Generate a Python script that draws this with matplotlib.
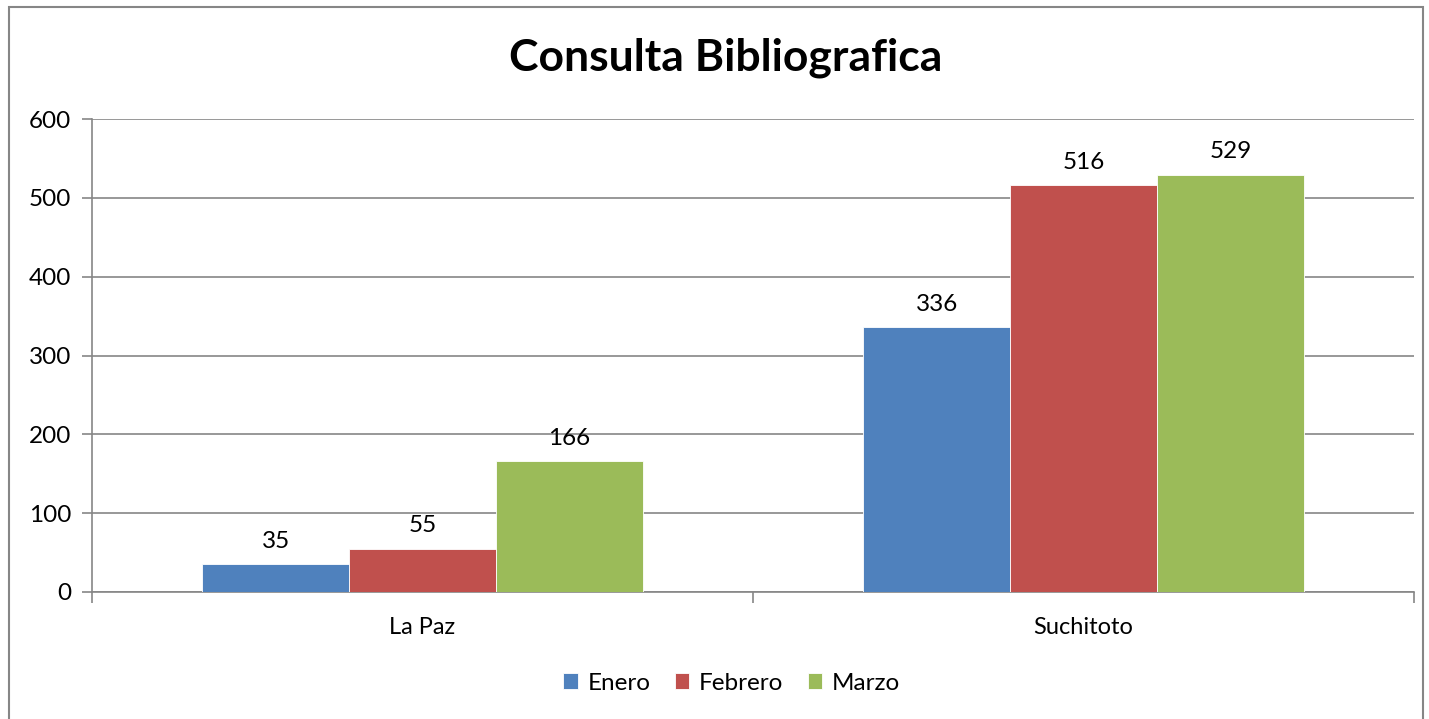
import matplotlib.pyplot as plt
import numpy as np
from matplotlib.patches import Rectangle

CATEGORIES = ['La Paz', 'Suchitoto']
SERIES = ['Enero', 'Febrero', 'Marzo']
ENERO = [35, 336]
FEBRERO = [55, 516]
MARZO = [166, 529]
COLORS = ['#4F81BD', '#C0504D', '#9BBB59']


def plot_chart() -> None:
    plt.rcParams['font.family'] = ['Lato', 'DejaVu Sans']
    fig = plt.figure(figsize=(14.29, 7.19), dpi=100)
    ax = fig.add_axes([92 / 1429, 1 - 592 / 719, (1414 - 92) / 1429, (592 - 119) / 719])

    # chart area border
    fig.patches.append(Rectangle((9 / 1429, -0.05), (1423 - 9) / 1429, 1.05 - 7 / 719,
                                 transform=fig.transFigure, fill=False,
                                 edgecolor='#868686', linewidth=1.5))

    values = [ENERO, FEBRERO, MARZO]
    width = 1 / 4.5
    ind = np.arange(len(CATEGORIES))
    for i, (name, vals) in enumerate(zip(SERIES, values)):
        pos = ind + (i - 1) * width
        ax.bar(pos, vals, width, color=COLORS[i], label=name,
               edgecolor='white', linewidth=0.6, zorder=3)
        for x, v in zip(pos, vals):
            ax.text(x, v + 16, str(v), ha='center', va='bottom', fontsize=17.5)

    ax.set_xlim(-0.5, 1.5)
    ax.set_ylim(0, 600)
    ax.set_yticks(range(0, 601, 100))
    ax.yaxis.grid(True, color='#868686', linewidth=1.2, zorder=0)
    ax.set_xticks(ind)
    ax.set_xticklabels(CATEGORIES, fontsize=17)
    ax.tick_params(axis='x', length=0, pad=18)
    ax.set_xticks([-0.5, 0.5, 1.5], minor=True)
    ax.tick_params(axis='x', which='minor', length=8, color='#868686', width=1.2)
    ax.tick_params(axis='y', labelsize=17.5, length=7, color='#868686', width=1.2, pad=8)
    for side in ['top', 'right']:
        ax.spines[side].set_visible(False)
    for side in ['left', 'bottom']:
        ax.spines[side].set_color('#868686')
        ax.spines[side].set_linewidth(1.2)

    fig.text(0.508, 1 - 58 / 719, 'Consulta Bibliografica', ha='center', va='center',
             fontsize=32, fontweight='bold')

    fig.legend(loc='center', bbox_to_anchor=(0.512, 1 - 683 / 719), ncol=3, frameon=False,
               fontsize=17.5, handlelength=0.6, handleheight=0.6, handletextpad=0.4,
               columnspacing=1.0)

    fig.savefig('out.png', dpi=100)


if __name__ == "__main__":
    plot_chart()
